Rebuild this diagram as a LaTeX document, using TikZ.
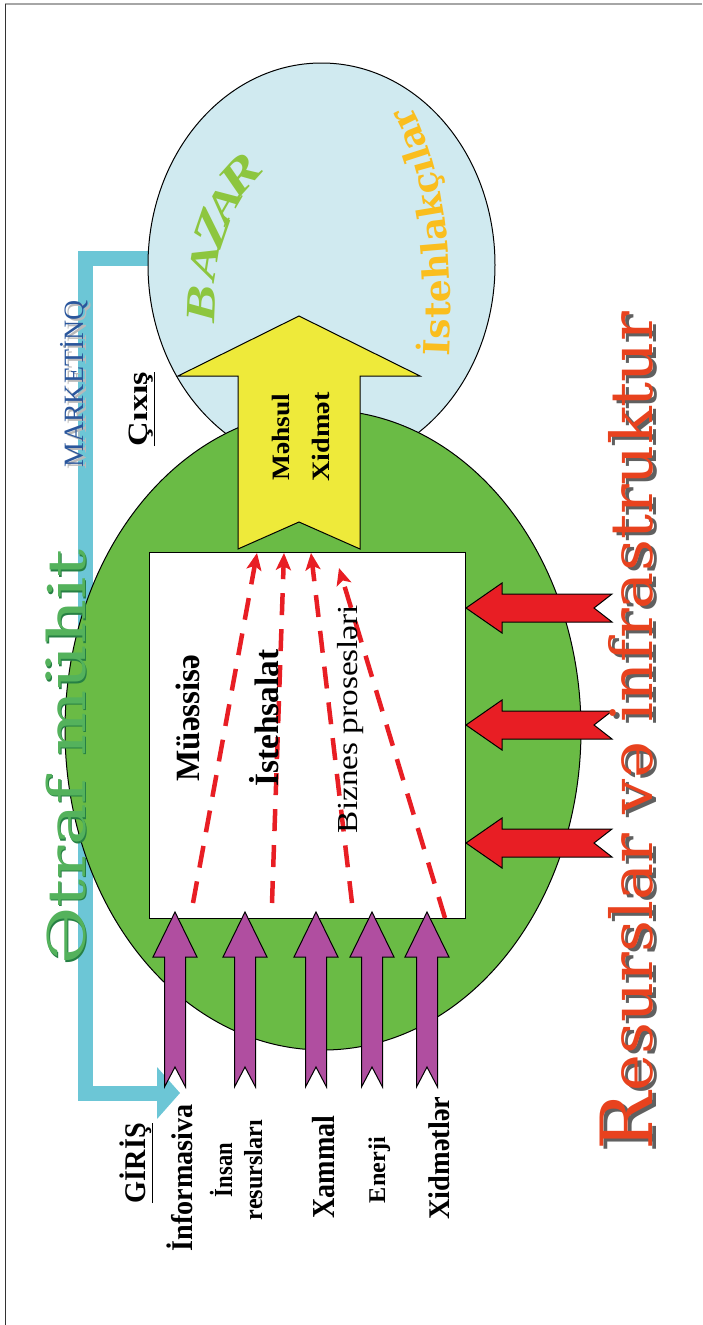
\documentclass[tikz,border=0pt]{standalone}
\usepackage{fontspec}
\usepackage{graphicx}
\setmainfont{Liberation Serif}
\newfontfamily\slabfont{DejaVu Serif}
\usetikzlibrary{arrows.meta,decorations.text,shapes.geometric}

\definecolor{marketblue}{RGB}{208,234,240}
\definecolor{envgreen}{RGB}{106,187,69}
\definecolor{prodyellow}{RGB}{238,234,58}
\definecolor{inpurple}{RGB}{176,78,160}
\definecolor{resred}{RGB}{232,30,36}
\definecolor{linkcyan}{RGB}{108,198,214}
\definecolor{titlegreen}{RGB}{84,178,92}
\definecolor{titleedge}{RGB}{38,128,68}
\definecolor{mktext}{RGB}{42,86,156}
\definecolor{bazargreen}{RGB}{141,198,63}
\definecolor{consumergold}{RGB}{250,190,30}
\definecolor{infraorange}{RGB}{232,66,30}

% fit a label to a given length along its baseline
\newcommand\fitto[2]{\resizebox{#1pt}{\height}{#2}}
\newcommand\bazarletter[2]{\scalebox{1.35}[1]{\fontsize{#1}{#1}\selectfont\bfseries\itshape #2}}

\begin{document}
\begin{tikzpicture}[x=1pt,y=-1pt,
  rim/.style={draw=black,line width=1pt},
  blockin/.style={rim,fill=inpurple},
  blockres/.style={rim,fill=resred},
  blockout/.style={rim,fill=prodyellow},
  flowdash/.style={draw=resred,line width=4.5pt,dash pattern=on 22pt off 14pt,
    -{Stealth[length=17pt,width=15pt,inset=4pt]}},
  linkbar/.style={draw=linkcyan,line width=15pt},
  vtext/.style={rotate=90,anchor=base,inner sep=0pt,outer sep=0pt},
  bazar/.style={text=bazargreen,inner sep=0pt},
]
\useasboundingbox (0,0) rectangle (702,1325);

% page frame
\draw[gray!70,line width=2pt] (5,4) -- (702,4);
\draw[black!80,line width=1pt] (5,4) -- (5,1325);

% marketing link from the market back to the inputs
\coordinate (mkt-link) at (150,258);
\coordinate (in-link) at (158,1093);
\draw[linkbar] (mkt-link) -- (85,258) -- (85,1093) -- (in-link);
\fill[linkcyan] (157,1067) -- (180,1093) -- (157,1119) -- cycle;

% market and environment
\node[ellipse,rim,fill=marketblue,minimum width=347pt,minimum height=404pt,inner sep=0pt] (market) at (321.5,265) {};
\node[ellipse,rim,fill=envgreen,minimum width=516pt,minimum height=640pt,inner sep=0pt] (environment) at (323,730) {};

% enterprise box
\node[rim,fill=white,minimum width=316pt,minimum height=366pt,inner sep=0pt,anchor=north west] (firm) at (149,552) {};

% output arrow
\draw[blockout] (299,316) -- (420,376) -- (360,376) -- (360,549) -- (299,522) -- (238,549) -- (238,376) -- (178,376) -- cycle;

% input arrows
\foreach \cx in {175,245,316,372,427}
  \draw[blockin] (\cx,912) -- ++(22,45) -- ++(-11.5,0) -- ++(0,130) -- ++(-10.5,-20)
    -- ++(-10.5,20) -- ++(0,-130) -- ++(-11.5,0) -- cycle;

% resource arrows
\foreach \cy in {608,725,843}
  \draw[blockres] (466,\cy) -- ++(36,-25) -- ++(0,11) -- ++(110,0) -- ++(-18,14)
    -- ++(18,14) -- ++(-110,0) -- ++(0,11) -- cycle;

% internal flows
\coordinate (f1s) at (193,903); \coordinate (f1e) at (257,553);
\coordinate (f2s) at (272,903); \coordinate (f2e) at (284,553);
\coordinate (f3s) at (352,903); \coordinate (f3e) at (311,553);
\coordinate (f4s) at (445,918); \coordinate (f4e) at (339,568);
\draw[flowdash] (f1s) -- (f1e);
\draw[flowdash] (f2s) -- (f2e);
\draw[flowdash] (f3s) -- (f3e);
\draw[flowdash] (f4s) -- (f4e);

% title
\node[vtext,text=titleedge] (title-edge) at (86.5,758.5) {\fitto{415}{\slabfont\fontsize{52}{52}\selectfont Ətraf mühit}};
\node[vtext,text=titlegreen] (title) at (85,757) {\fitto{415}{\slabfont\fontsize{52}{52}\selectfont Ətraf mühit}};

% marketing label
\node[vtext,text=gray!55] (marketing-shadow) at (86,386) {\fitto{167}{\fontsize{28}{28}\selectfont MARKETİNQ}};
\node[vtext,text=mktext] (marketing) at (83,384) {\fitto{167}{\fontsize{28}{28}\selectfont MARKETİNQ}};

% output / input headings
\node[vtext] (output) at (147,409) {\fitto{74}{\fontsize{28}{28}\selectfont\bfseries\underline{Çıxış}}};
\node[vtext] (input) at (145,1163) {\fitto{80}{\fontsize{30}{30}\selectfont\bfseries\underline{GİRİŞ}}};

% input labels
\node[vtext] (info) at (192,1178) {\fitto{147}{\fontsize{30}{30}\selectfont\bfseries İnformasiva}};
\node[vtext] (human1) at (232,1170) {\fitto{54}{\fontsize{26}{26}\selectfont\bfseries İnsan}};
\node[vtext] (human2) at (262,1170) {\fitto{100}{\fontsize{26}{26}\selectfont\bfseries resursları}};
\node[vtext] (raw) at (334,1167) {\fitto{103}{\fontsize{32}{32}\selectfont\bfseries Xammal}};
\node[vtext] (energy) at (385,1170) {\fitto{66}{\fontsize{24}{24}\selectfont\bfseries Enerji}};
\node[vtext] (services) at (449,1158) {\fitto{123}{\fontsize{30}{30}\selectfont\bfseries Xidmətlər}};

% enterprise labels
\node[vtext] (firm-name) at (199,718) {\fitto{127}{\fontsize{34}{34}\selectfont\bfseries Müəssisə}};
\node[vtext] (production) at (278,718) {\fitto{137}{\fontsize{34}{34}\selectfont\bfseries İstehsalat}};
\node[vtext] (processes) at (357,719) {\fitto{228}{\fontsize{29}{29}\selectfont Biznes prosesləri}};

% output arrow labels
\node[vtext] (product) at (289,437) {\fitto{87}{\fontsize{25}{25}\selectfont\bfseries Məhsul}};
\node[vtext] (service) at (329,437) {\fitto{89}{\fontsize{25}{25}\selectfont\bfseries Xidmət}};

% market labels, set along an arch
\node[bazar,rotate=88] (bz-1) at (201,304) {\bazarletter{42}{B}};
\node[bazar,rotate=81] (bz-2) at (204,262) {\bazarletter{40}{A}};
\node[bazar,rotate=71] (bz-3) at (212,228) {\bazarletter{46}{Z}};
\node[bazar,rotate=60] (bz-4) at (224,203) {\bazarletter{40}{A}};
\node[bazar,rotate=48] (bz-5) at (240,175) {\bazarletter{46}{R}};

\path[decorate,decoration={text along path,text align=left,
  text={|\slabfont\bfseries\fontsize{36}{36}\selectfont\color{consumergold}|İstehlakçılar}}]
  (449,356) .. controls (454,250) and (444,150) .. (398,86);

% resources heading
\node[vtext,text=gray!75!black] (infra-shadow) at (656,734) {\fitto{838}{\slabfont\fontsize{58}{58}\selectfont{\fontsize{72}{72}\selectfont R}esurslar və infrastruktur}};
\node[vtext,text=infraorange] (infra) at (652,731) {\fitto{838}{\slabfont\fontsize{58}{58}\selectfont{\fontsize{72}{72}\selectfont R}esurslar və infrastruktur}};
\end{tikzpicture}
\end{document}
